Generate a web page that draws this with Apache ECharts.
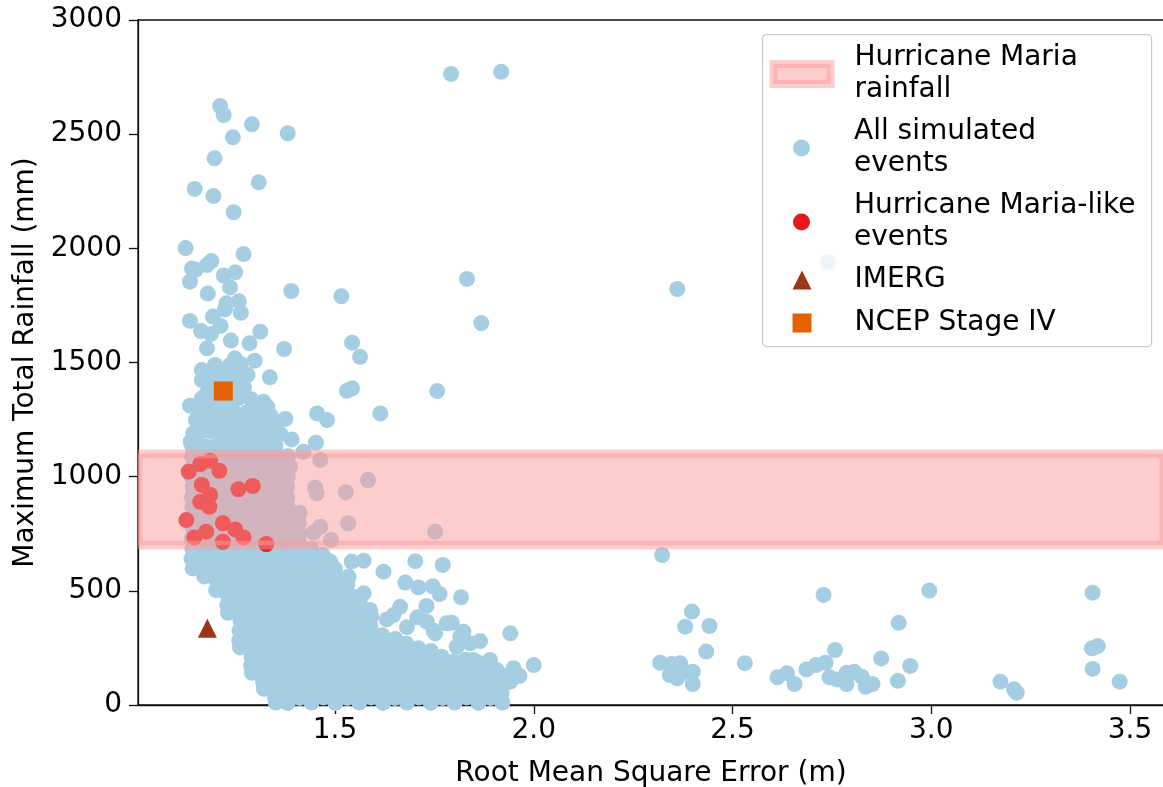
<!DOCTYPE html>
<html><head><meta charset="utf-8">
<script src="https://cdn.jsdelivr.net/npm/echarts@6/dist/echarts.min.js"></script>
<style>html,body{margin:0;padding:0;background:#fff}#c{width:1163px;height:787px}</style>
</head><body><div id="c"></div>
<script>
// ---- data ----
const xTicks = [1.5, 2.0, 2.5, 3.0, 3.5];
const yTicks = [0, 500, 1000, 1500, 2000, 2500, 3000];
const xRange = [1.0044, 3.5855];
const yRange = [0, 3000];
const mariaRainfall = [700, 1100];

// dense core of simulated events
const simulatedCloud = [
[1.142,598],[1.139,641],[1.141,684],[1.140,731],[1.142,776],[1.139,818],[1.141,866],[1.140,909],[1.142,956],[1.139,1001],[1.141,1044],[1.140,1089],[1.141,1133],
[1.171,563],[1.169,618],[1.170,661],[1.171,708],[1.169,751],[1.170,798],[1.172,841],[1.169,888],[1.171,931],[1.170,978],[1.169,1021],[1.171,1068],[1.170,1111],
[1.201,503],[1.199,551],[1.200,594],[1.202,641],[1.199,686],[1.201,729],[1.200,776],[1.199,819],[1.201,866],[1.200,911],[1.202,954],[1.199,1001],[1.201,1046],[1.200,1089],[1.199,1136],
[1.231,404],[1.229,438],[1.230,481],[1.231,528],[1.229,571],[1.230,618],[1.232,661],[1.229,706],[1.231,753],[1.230,796],[1.229,843],[1.231,886],[1.230,933],[1.229,976],[1.231,1023],[1.230,1066],[1.229,1113],
[1.261,252],[1.259,283],[1.260,326],[1.262,369],[1.259,416],[1.261,459],[1.260,506],[1.259,549],[1.261,596],[1.260,639],[1.262,686],[1.259,729],[1.261,776],[1.260,821],[1.259,864],[1.261,911],[1.260,954],[1.262,999],[1.259,1046],[1.261,1091],[1.260,1134],
[1.291,141],[1.289,172],[1.290,211],[1.291,258],[1.289,301],[1.290,348],[1.292,391],[1.289,438],[1.291,481],[1.290,528],[1.289,571],[1.291,618],[1.290,661],[1.289,708],[1.291,751],[1.290,798],[1.292,841],[1.289,888],[1.291,931],[1.290,978],[1.289,1021],[1.291,1068],[1.290,1111],
[1.321,71],[1.319,101],[1.320,144],[1.322,191],[1.319,234],[1.321,281],[1.320,324],[1.319,371],[1.321,414],[1.320,461],[1.322,504],[1.319,551],[1.321,594],[1.320,641],[1.319,684],[1.321,731],[1.320,774],[1.322,821],[1.319,864],[1.321,911],[1.320,954],[1.319,1001],[1.321,1044],[1.320,1091],[1.322,1136],
[1.351,11],[1.349,33],[1.350,76],[1.351,123],[1.349,166],[1.350,213],[1.352,256],[1.349,303],[1.351,346],[1.350,393],[1.349,436],[1.351,483],[1.350,526],[1.352,573],[1.349,616],[1.351,663],[1.350,706],[1.349,753],[1.351,796],[1.350,843],[1.352,886],[1.349,933],[1.351,976],[1.350,1023],[1.349,1066],[1.351,1113],
[1.381,9],[1.379,56],[1.380,99],[1.382,146],[1.379,189],[1.381,236],[1.380,279],[1.379,326],[1.381,369],[1.380,416],[1.382,459],[1.379,506],[1.381,549],[1.380,596],[1.379,639],[1.381,686],[1.380,729],[1.382,776],[1.379,819],[1.381,866],[1.380,909],[1.379,956],[1.381,999],[1.380,1046],[1.382,1089],
[1.411,31],[1.409,78],[1.410,121],[1.411,168],[1.409,211],[1.410,258],[1.412,301],[1.409,348],[1.411,391],[1.410,438],[1.409,481],[1.411,528],[1.410,571],[1.412,618],[1.409,661],[1.411,708],[1.410,751],[1.409,798],[1.411,841],
[1.441,11],[1.439,54],[1.440,101],[1.442,144],[1.439,191],[1.441,234],[1.440,281],[1.439,324],[1.441,371],[1.440,414],[1.442,461],[1.439,504],[1.441,551],[1.440,594],[1.439,641],[1.441,681],
[1.471,33],[1.469,76],[1.470,123],[1.471,166],[1.469,213],[1.470,256],[1.472,303],[1.469,346],[1.471,393],[1.470,436],[1.469,483],[1.471,526],[1.470,573],[1.472,616],[1.469,658],
[1.501,9],[1.499,56],[1.500,99],[1.502,146],[1.499,189],[1.501,236],[1.500,279],[1.499,326],[1.501,369],[1.500,416],[1.502,459],[1.499,506],[1.501,549],[1.500,596],
[1.531,31],[1.529,78],[1.530,121],[1.531,168],[1.529,211],[1.530,258],[1.532,301],[1.529,348],[1.531,391],[1.530,438],[1.529,481],[1.531,528],
[1.561,11],[1.559,54],[1.560,101],[1.562,144],[1.559,191],[1.561,234],[1.560,281],[1.559,324],[1.561,371],[1.560,414],[1.562,461],
[1.591,33],[1.589,76],[1.590,123],[1.591,166],[1.589,213],[1.590,256],[1.592,303],[1.589,346],[1.591,388],
[1.621,9],[1.619,56],[1.620,99],[1.622,146],[1.619,189],[1.621,236],[1.620,279],[1.619,305],
[1.651,31],[1.649,78],[1.650,121],[1.651,168],[1.649,211],[1.650,258],[1.652,289],
[1.681,11],[1.679,54],[1.680,101],[1.682,144],[1.679,191],[1.681,234],[1.680,268],
[1.711,33],[1.709,76],[1.710,123],[1.711,166],[1.709,213],[1.710,248],
[1.741,9],[1.739,56],[1.740,99],[1.742,146],[1.739,189],[1.741,236],
[1.771,31],[1.769,78],[1.770,121],[1.771,168],[1.769,211],
[1.801,11],[1.799,54],[1.800,101],[1.802,144],[1.799,191],
[1.831,33],[1.829,76],[1.830,123],[1.831,166],[1.829,198],
[1.861,9],[1.859,56],[1.860,99],[1.862,146],[1.859,186],
[1.891,31],[1.889,78],[1.890,121],[1.891,158],
[1.921,11],[1.919,54],[1.920,98],[1.921,128],
[1.155,1180],[1.185,1200],[1.215,1185],[1.245,1195],[1.275,1190],[1.305,1185],[1.335,1195],[1.362,1188],
[1.170,1226],[1.200,1245],[1.230,1231],[1.260,1240],[1.290,1224],[1.320,1246],[1.350,1232],
[1.156,1274],[1.186,1291],[1.214,1300],[1.244,1286],[1.276,1280],[1.306,1270],[1.338,1268],
[1.171,1331],[1.201,1340],[1.229,1326],[1.259,1345],[1.289,1339],
[1.181,1380],[1.211,1395],[1.241,1376],[1.271,1390],
[1.190,1431],[1.221,1440],[1.250,1421],[1.280,1446],
[1.201,1470],[1.234,1486],[1.262,1495]
];

// individually visible simulated events
const simulatedOutliers = [
[1.211,2623],[1.220,2584],[1.291,2543],[1.381,2504],[1.243,2486],[1.197,2394],[1.308,2289],[1.147,2260],[1.194,2229],[1.245,2158],
[1.792,2764],[1.918,2773],
[1.124,2001],[1.270,1975],[1.189,1944],[1.178,1927],[1.140,1912],[1.149,1906],[1.249,1895],[1.220,1881],[1.135,1854],[1.236,1829],[1.390,1813],[1.180,1802],[1.516,1790],[1.258,1768],[1.227,1759],[1.263,1718],[1.223,1733],
[1.832,1866],[1.868,1673],[2.740,1940],[2.361,1822],
[1.135,1682],[1.193,1701],[1.212,1660],[1.163,1638],[1.312,1635],[1.188,1625],[1.238,1596],[1.285,1584],[1.178,1562],[1.372,1559],[1.543,1587],[1.563,1525],
[1.298,1508],[1.248,1518],[1.198,1489],[1.165,1467],[1.263,1467],[1.336,1435],[1.263,1423],[1.165,1423],
[1.530,1376],[1.543,1387],[1.757,1375],[1.135,1311],[1.165,1343],[1.320,1328],[1.195,1277],[1.307,1296],[1.150,1248],[1.237,1263],[1.330,1306],[1.375,1253],[1.455,1277],[1.480,1248],[1.614,1277],
[1.143,1190],[1.194,1212],[1.253,1234],[1.287,1241],[1.337,1219],[1.137,1153],[1.220,1161],[1.278,1175],[1.328,1182],[1.391,1163],[1.452,1149],[1.175,1131],[1.233,1131],[1.300,1139],[1.350,1139],[1.421,1109],
[1.387,1044],[1.463,1073],[1.450,952],[1.454,927],[1.527,932],[1.583,985],[1.533,796],[1.463,781],[1.446,755],[1.490,723],[1.752,759],
[1.542,628],[1.572,632],[1.622,584],[1.702,630],[1.771,613],[1.677,536],[1.710,515],[1.746,520],[1.763,486],[1.817,472],[1.664,430],[1.730,434],
[1.534,562],[1.546,474],[1.572,489],[1.588,416],[1.630,375],[1.707,384],[1.681,341],[1.748,325],[1.794,360],[1.823,321],[1.865,280],[1.941,314],
[2.000,175],[1.949,161],[1.964,127],[1.903,139],[1.903,83],[1.941,102],[1.760,39],[1.808,58],[1.647,394],[1.781,358],[1.488,628],[1.450,650],
[1.731,365],[1.752,314],[1.815,299],[1.840,270],[1.806,255],[1.890,197],[1.907,153],[1.848,197],
[2.323,657],[2.398,409],[2.381,343],[2.442,346],[2.434,234],[2.318,185],[2.347,180],[2.368,183],[2.400,146],[2.342,131],[2.361,117],[2.400,92],[2.378,146],
[2.531,183],[2.613,121],[2.637,139],[2.656,92],[2.686,156],[2.710,175],[2.734,185],[2.758,241],[2.729,482],[2.744,121],[2.763,112],[2.787,141],[2.806,146],[2.787,92],
[2.825,124],[2.835,80],[2.852,92],[2.874,204],[2.918,360],[2.916,106],[2.947,171],[2.995,501],[3.174,102],[3.208,69],[3.215,54],[3.406,492],[3.419,258],[3.404,248],[3.406,158],[3.474,102]
];

const mariaLike = [
[1.132,1022],[1.161,1055],[1.186,1070],[1.209,1026],[1.165,964],[1.186,920],[1.161,890],[1.184,868],[1.257,945],[1.293,959],
[1.126,810],[1.218,796],[1.146,734],[1.176,759],[1.218,715],[1.249,769],[1.270,734],[1.327,705]
];
const imerg = [[1.179, 336]];
const ncepStageIV = [[1.219, 1375]];

// ---- chart ----
const FONT = 'DejaVu Sans';
const BAND = 'rgba(251,154,153,0.5)';
const nameBand = 'Hurricane Maria\nrainfall';
const nameSim = 'All simulated\nevents';
const nameLike = 'Hurricane Maria-like\nevents';
const nameImerg = 'IMERG';
const nameNcep = 'NCEP Stage IV';
const txt = { fontFamily: FONT, fontSize: 28, color: '#000', lineHeight: 32 };

const chart = echarts.init(document.getElementById('c'), null, { renderer: 'canvas' });
chart.setOption({
  animation: false,
  backgroundColor: '#fff',
  textStyle: { fontFamily: FONT },
  grid: { left: 138, right: -1, top: 20, bottom: 82, outerBoundsMode: 'none', containLabel: false,
          show: true, borderColor: '#111', borderWidth: 1.3, backgroundColor: 'transparent' },
  xAxis: {
    type: 'value', min: xRange[0], max: xRange[1],
    name: 'Root Mean Square Error (m)', nameLocation: 'middle', nameGap: 55,
    nameTextStyle: { fontFamily: FONT, fontSize: 28, color: '#000' },
    axisLine: { show: true, onZero: false, lineStyle: { color: '#111', width: 1.3 } },
    axisTick: { show: true, length: 9, customValues: xTicks, lineStyle: { color: '#111', width: 1.3 } },
    axisLabel: { customValues: xTicks, formatter: v => v.toFixed(1), fontFamily: FONT, fontSize: 28, color: '#000', margin: 12 },
    splitLine: { show: false }
  },
  yAxis: {
    type: 'value', min: yRange[0], max: yRange[1],
    name: 'Maximum Total Rainfall (mm)', nameLocation: 'middle', nameGap: 86, nameRotate: 90,
    nameTextStyle: { fontFamily: FONT, fontSize: 28, color: '#000' },
    axisLine: { show: true, onZero: false, lineStyle: { color: '#111', width: 1.3 } },
    axisTick: { show: true, length: 9, customValues: yTicks, lineStyle: { color: '#111', width: 1.3 } },
    axisLabel: { customValues: yTicks, formatter: v => String(v), fontFamily: FONT, fontSize: 28, color: '#000', margin: 16 },
    splitLine: { show: false }
  },
  legend: [
    { orient: 'vertical', left: 769.5, top: 42, padding: 0, itemGap: 10, itemWidth: 95, itemHeight: 20,
      selectedMode: false, z: 10, textStyle: txt,
      data: [{ name: nameBand, icon: 'path://M0,0h57v20h-57Z', itemStyle: { color: BAND, borderColor: BAND, borderWidth: 8 } }] },
    { orient: 'vertical', left: 793, top: 116, padding: 0, itemGap: 10, itemWidth: 95, itemHeight: 17,
      selectedMode: false, z: 10, textStyle: txt,
      data: [{ name: nameSim, icon: 'circle' }, { name: nameLike, icon: 'circle' }] },
    { orient: 'vertical', left: 792.5, top: 264, padding: 0, itemGap: 11, itemWidth: 95, itemHeight: 19,
      selectedMode: false, z: 10, textStyle: txt,
      data: [{ name: nameImerg, icon: 'path://M9.5,0L19,19L0,19Z' }, { name: nameNcep, icon: 'path://M0,0h19v19h-19Z' }] }
  ],
  graphic: [{
    type: 'rect', left: 762, top: 34, z: 8, silent: true,
    shape: { width: 389, height: 312, r: 4 },
    style: { fill: 'rgba(255,255,255,0.8)', stroke: '#cccccc', lineWidth: 1.2 }
  }],
  series: [
    { name: nameSim, type: 'scatter', z: 2, symbol: 'circle', symbolSize: 16, silent: true,
      itemStyle: { color: '#a6cee3', opacity: 1 },
      data: simulatedCloud.concat(simulatedOutliers) },
    { name: nameLike, type: 'scatter', z: 3, symbol: 'circle', symbolSize: 16, silent: true,
      itemStyle: { color: '#e31a1c', opacity: 1 }, data: mariaLike },
    { name: nameBand, type: 'custom', z: 5, clip: true, silent: true,
      itemStyle: { color: BAND },
      data: [[xRange[0], mariaRainfall[0], mariaRainfall[1]]],
      encode: { x: 0, y: [1, 2] },
      renderItem: function (params, api) {
        const cs = params.coordSys;
        const lo = api.coord([api.value(0), api.value(1)]);
        const hi = api.coord([api.value(0), api.value(2)]);
        return { type: 'rect', shape: { x: cs.x, y: hi[1], width: cs.width, height: lo[1] - hi[1] },
          style: { fill: BAND, stroke: BAND, lineWidth: 8.6 } };
      } },
    { name: nameImerg, type: 'scatter', z: 6, symbol: 'triangle', symbolSize: 19, silent: true,
      itemStyle: { color: '#9d3614', opacity: 1 }, data: imerg },
    { name: nameNcep, type: 'scatter', z: 6, symbol: 'rect', symbolSize: 19, silent: true,
      itemStyle: { color: '#e66101', opacity: 1 }, data: ncepStageIV }
  ]
});
</script></body></html>
